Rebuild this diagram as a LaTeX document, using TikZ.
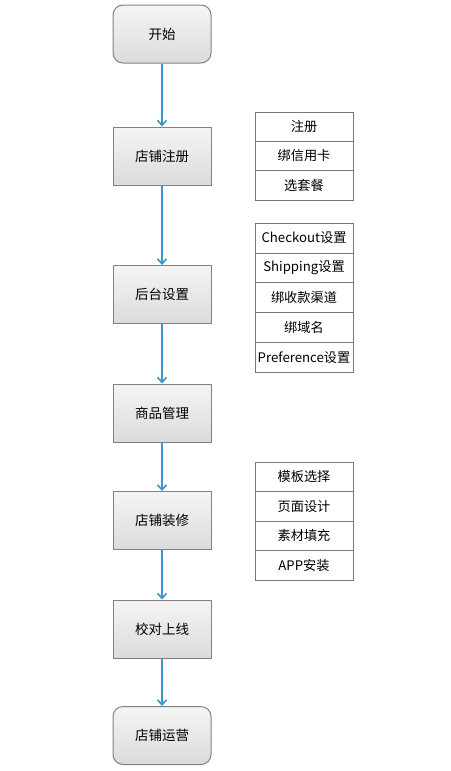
\documentclass[tikz,border=0pt]{standalone}
\usepackage{fontspec}
\setmainfont{Noto Sans CJK SC}
\usetikzlibrary{arrows.meta}
\definecolor{arrowblue}{RGB}{58,150,208}
\definecolor{boxline}{RGB}{130,130,130}
\definecolor{cellline}{RGB}{120,120,120}
\tikzset{
  flowbox/.style={draw=boxline, line width=1pt, top color=white!96!black, bottom color=white!86!black,
    minimum width=98pt, minimum height=58pt, inner sep=0pt, font=\fontsize{13.5}{15}\selectfont},
  roundbox/.style={flowbox, rounded corners=10pt},
  cell/.style={draw=cellline, line width=0.7pt, fill=white, minimum width=98pt, inner sep=0pt,
    font=\fontsize{13.2}{14}\selectfont},
  flowarrow/.style={draw=arrowblue, line width=1.6pt, -{Straight Barb[length=5pt,width=9pt,line width=1.6pt]}}
}
\begin{document}
\begin{tikzpicture}[x=1pt,y=-1pt]
\useasboundingbox (0,0) rectangle (450,771);
\node[roundbox] (n1) at (162,34) {开始};
\node[flowbox] (n2) at (162,156) {店铺注册};
\node[flowbox] (n3) at (162,294.5) {后台设置};
\node[flowbox] (n4) at (162,413) {商品管理};
\node[flowbox] (n5) at (162,520.5) {店铺装修};
\node[flowbox] (n6) at (162,629) {校对上线};
\node[roundbox] (n7) at (162,735.5) {店铺运营};
\draw[flowarrow] (n1) -- (n2);
\draw[flowarrow] (n2) -- (n3);
\draw[flowarrow] (n3) -- (n4);
\draw[flowarrow] (n4) -- (n5);
\draw[flowarrow] (n5) -- (n6);
\draw[flowarrow] (n6) -- (n7);
% group 1
\node[cell, minimum height=29.3pt] (a1) at (304,126.7) {注册};
\node[cell, minimum height=29.3pt] (a2) at (304,156) {绑信用卡};
\node[cell, minimum height=29.3pt] (a3) at (304,185.3) {选套餐};
% group 2
\node[cell, minimum height=29.8pt] (b1) at (304,238) {Checkout设置};
\node[cell, minimum height=29.8pt] (b2) at (304,267.8) {Shipping设置};
\node[cell, minimum height=29.8pt] (b3) at (304,297.6) {绑收款渠道};
\node[cell, minimum height=29.8pt] (b4) at (304,327.4) {绑域名};
\node[cell, minimum height=29.8pt] (b5) at (304,357.2) {Preference设置};
% group 3
\node[cell, minimum height=29.5pt] (c1) at (304,476.8) {模板选择};
\node[cell, minimum height=29.5pt] (c2) at (304,506.3) {页面设计};
\node[cell, minimum height=29.5pt] (c3) at (304,535.8) {素材填充};
\node[cell, minimum height=29.5pt] (c4) at (304,565.3) {APP安装};
\end{tikzpicture}
\end{document}
